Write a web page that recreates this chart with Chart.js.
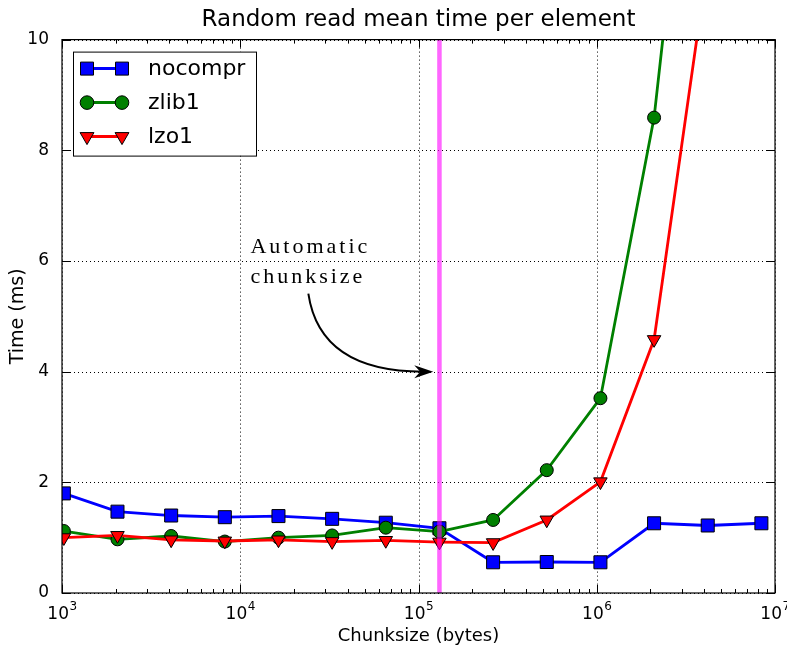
<!DOCTYPE html>
<html>
<head>
<meta charset="utf-8">
<script src="https://cdn.jsdelivr.net/npm/chart.js@4/dist/chart.umd.min.js"></script>
<style>
  html, body { margin: 0; padding: 0; background: #fff; }
  canvas { display: block; }
</style>
</head>
<body>
<canvas id="myChart" width="787" height="649"></canvas>
<script>
// chunk sizes in bytes (1 KB .. 8 MB)
const chunksizes = [1024, 2048, 4096, 8192, 16384, 32768, 65536, 131072,
  262144, 524288, 1048576, 2097152, 4194304, 8388608];

// mean read time per element, ms
const nocompr = [1.80, 1.47, 1.40, 1.37, 1.39, 1.34, 1.27, 1.17, 0.555, 0.56, 0.555, 1.26, 1.22, 1.26];
const zlib1 = [1.12, 0.97, 1.03, 0.93, 1.00, 1.04, 1.18, 1.11, 1.32, 2.22, 3.52, 8.59, 17.3, null];
const lzo1 = [1.00, 1.04, 0.96, 0.94, 0.96, 0.93, 0.95, 0.92, 0.91, 1.32, 2.01, 4.58, 11.4, null];

// x tick labels are "10" with these exponents
const xTicks = [1e3, 1e4, 1e5, 1e6, 1e7];
const xTickExp = ["3", "4", "5", "6", "7"];
const yTicks = [0, 2, 4, 6, 8, 10];

// automatic chunksize marker and its annotation
const autoChunk = 131072;
const noteText = ["Automatic", "chunksize"];
const notePos = [11400, 6.15];
const arrowFrom = [24100, 5.41];
const arrowBend = [28000, 4.0];
const arrowTo = [121000, 4.0];

const FONT = "'DejaVu Sans', sans-serif";

function pairs(ys) {
  return chunksizes.map((x, i) => ({ x: x, y: ys[i] }));
}

function drawMarker(ctx, style, x, y, color) {
  ctx.save();
  ctx.fillStyle = color;
  ctx.strokeStyle = "#000";
  ctx.lineWidth = 1;
  ctx.beginPath();
  if (style === "rect") {
    const s = 6.5;
    ctx.rect(x - s, y - s, 2 * s, 2 * s);
  } else if (style === "circle") {
    ctx.arc(x, y, 6.8, 0, Math.PI * 2);
  } else {
    const r = 8;
    ctx.moveTo(x, y + r);
    ctx.lineTo(x - r * Math.sin(Math.PI / 3), y - r / 2);
    ctx.lineTo(x + r * Math.sin(Math.PI / 3), y - r / 2);
    ctx.closePath();
  }
  ctx.fill();
  ctx.stroke();
  ctx.restore();
}

const series = [
  { label: "nocompr", data: nocompr, color: "#0000ff", style: "rect", radius: 9.2, rot: 0 },
  { label: "zlib1", data: zlib1, color: "#008000", style: "circle", radius: 6.5, rot: 0 },
  { label: "lzo1", data: lzo1, color: "#ff0000", style: "triangle", radius: 7.8, rot: 180 },
];

const decor = {
  id: "decor",
  beforeDatasetsDraw(chart) {
    const ctx = chart.ctx, a = chart.chartArea;
    const xs = chart.scales.x, ys = chart.scales.y;
    ctx.save();
    ctx.strokeStyle = "#000";
    ctx.lineWidth = 1;
    ctx.setLineDash([1, 3]);
    xTicks.forEach((v) => {
      const px = Math.round(xs.getPixelForValue(v)) + 0.5;
      ctx.beginPath();
      ctx.moveTo(px, a.top);
      ctx.lineTo(px, a.bottom);
      ctx.stroke();
    });
    yTicks.forEach((v) => {
      const py = Math.round(ys.getPixelForValue(v)) + 0.5;
      ctx.beginPath();
      ctx.moveTo(a.left, py);
      ctx.lineTo(a.right, py);
      ctx.stroke();
    });
    ctx.restore();

    // x tick labels: 10 with raised exponent
    ctx.save();
    ctx.fillStyle = "#000";
    ctx.textBaseline = "alphabetic";
    xTicks.forEach((v, i) => {
      ctx.font = "17px " + FONT;
      const wb = ctx.measureText("10").width;
      ctx.font = "12px " + FONT;
      const we = ctx.measureText(xTickExp[i]).width;
      const x0 = xs.getPixelForValue(v) - (wb + we) / 2;
      ctx.font = "17px " + FONT;
      ctx.fillText("10", x0, a.bottom + 26);
      ctx.font = "12px " + FONT;
      ctx.fillText(xTickExp[i], x0 + wb + 0.5, a.bottom + 16.5);
    });
    ctx.restore();
  },
  afterDatasetsDraw(chart) {
    const ctx = chart.ctx, a = chart.chartArea;
    const xs = chart.scales.x, ys = chart.scales.y;

    // vertical line at the automatic chunksize
    ctx.save();
    const mx = xs.getPixelForValue(autoChunk);
    ctx.strokeStyle = "rgba(255,0,255,0.6)";
    ctx.lineWidth = 4.5;
    ctx.beginPath();
    ctx.moveTo(mx, a.top);
    ctx.lineTo(mx, a.bottom);
    ctx.stroke();
    ctx.restore();

    // frame + inward ticks
    ctx.save();
    ctx.strokeStyle = "#000";
    ctx.lineWidth = 1.2;
    ctx.strokeRect(a.left, a.top, a.right - a.left, a.bottom - a.top);
    ctx.lineWidth = 1;
    ctx.beginPath();
    xTicks.forEach((v) => {
      const px = Math.round(xs.getPixelForValue(v)) + 0.5;
      ctx.moveTo(px, a.bottom); ctx.lineTo(px, a.bottom - 8);
      ctx.moveTo(px, a.top); ctx.lineTo(px, a.top + 8);
    });
    for (let d = 1e3; d < 1e7; d *= 10) {
      for (let k = 2; k <= 9; k++) {
        const px = Math.round(xs.getPixelForValue(d * k)) + 0.5;
        ctx.moveTo(px, a.bottom); ctx.lineTo(px, a.bottom - 4);
        ctx.moveTo(px, a.top); ctx.lineTo(px, a.top + 4);
      }
    }
    yTicks.forEach((v) => {
      const py = Math.round(ys.getPixelForValue(v)) + 0.5;
      ctx.moveTo(a.left, py); ctx.lineTo(a.left + 8, py);
      ctx.moveTo(a.right, py); ctx.lineTo(a.right - 8, py);
    });
    ctx.stroke();
    ctx.restore();

    // annotation
    ctx.save();
    ctx.fillStyle = "#000";
    ctx.font = "22px 'Liberation Serif', 'DejaVu Serif', serif";
    ctx.letterSpacing = "3px";
    ctx.textBaseline = "alphabetic";
    const tx = xs.getPixelForValue(notePos[0]), ty = ys.getPixelForValue(notePos[1]);
    noteText.forEach((t, i) => ctx.fillText(t, tx, ty + i * 30));
    const p0 = [xs.getPixelForValue(arrowFrom[0]), ys.getPixelForValue(arrowFrom[1])];
    const pc = [xs.getPixelForValue(arrowBend[0]), ys.getPixelForValue(arrowBend[1])];
    const p1 = [xs.getPixelForValue(arrowTo[0]), ys.getPixelForValue(arrowTo[1])];
    ctx.strokeStyle = "#000";
    ctx.lineWidth = 2;
    ctx.beginPath();
    ctx.moveTo(p0[0], p0[1]);
    ctx.quadraticCurveTo(pc[0], pc[1], p1[0] - 10, p1[1]);
    ctx.stroke();
    ctx.beginPath();
    ctx.moveTo(p1[0], p1[1]);
    ctx.lineTo(p1[0] - 19, p1[1] - 6.5);
    ctx.lineTo(p1[0] - 13, p1[1]);
    ctx.lineTo(p1[0] - 19, p1[1] + 6.5);
    ctx.closePath();
    ctx.fill();
    ctx.restore();

    // legend
    ctx.save();
    const lx = a.left + 11, ly = a.top + 12;
    ctx.fillStyle = "#fff";
    ctx.fillRect(lx, ly, 183, 104);
    ctx.strokeStyle = "#000";
    ctx.lineWidth = 1;
    ctx.strokeRect(lx + 0.5, ly + 0.5, 183, 104);
    series.forEach((s, i) => {
      const cy = ly + 17 + i * 34;
      ctx.strokeStyle = s.color;
      ctx.lineWidth = 3;
      ctx.beginPath();
      ctx.moveTo(lx + 14, cy);
      ctx.lineTo(lx + 49, cy);
      ctx.stroke();
      drawMarker(ctx, s.style, lx + 14, cy, s.color);
      drawMarker(ctx, s.style, lx + 49, cy, s.color);
      ctx.fillStyle = "#000";
      ctx.font = "22px " + FONT;
      ctx.textBaseline = "middle";
      ctx.fillText(s.label, lx + 75, cy + 1);
    });
    ctx.restore();
  },
};

let chart = new Chart("myChart", {
  type: "line",
  data: {
    datasets: series.map((s, i) => ({
      label: s.label,
      data: pairs(s.data),
      borderColor: s.color,
      backgroundColor: s.color,
      borderWidth: 2.8,
      fill: false,
      tension: 0,
      spanGaps: false,
      pointStyle: s.style,
      pointRadius: s.radius,
      pointRotation: s.rot,
      pointBackgroundColor: s.color,
      pointBorderColor: "#000",
      pointBorderWidth: 1,
      order: 3 - i,
    })),
  },
  plugins: [decor],
  options: {
    responsive: false,
    animation: false,
    devicePixelRatio: 1,
    layout: { padding: { left: 0, right: 12, top: 0, bottom: 0 } },
    plugins: {
      legend: { display: false },
      tooltip: { enabled: false },
      title: {
        display: true,
        fullSize: false,
        text: "Random read mean time per element",
        color: "#000",
        font: { family: FONT, size: 23, weight: "normal" },
        padding: { top: 6, bottom: 6 },
      },
    },
    scales: {
      x: {
        type: "logarithmic",
        min: 1e3,
        max: 1e7,
        afterBuildTicks: (scale) => {
          scale.ticks = xTicks.map((v) => ({ value: v }));
        },
        afterFit: (scale) => {
          scale.height = 56;
          scale.paddingLeft = 0;
          scale.paddingRight = 0;
        },
        grid: { display: false },
        border: { display: false },
        ticks: { display: false },
        title: {
          display: true,
          text: "Chunksize (bytes)",
          color: "#000",
          font: { family: FONT, size: 18 },
          padding: { top: 0, bottom: 2 },
        },
      },
      y: {
        min: 0,
        max: 10,
        afterBuildTicks: (scale) => {
          scale.ticks = yTicks.map((v) => ({ value: v }));
        },
        afterFit: (scale) => {
          scale.width = 62;
          scale.paddingTop = 0;
          scale.paddingBottom = 0;
        },
        grid: { display: false },
        border: { display: false },
        ticks: {
          color: "#000",
          font: { family: FONT, size: 17 },
          padding: 5,
        },
        title: {
          display: true,
          text: "Time (ms)",
          color: "#000",
          font: { family: FONT, size: 19 },
          padding: { top: 7, bottom: 0 },
        },
      },
    },
  },
});
</script>
</body>
</html>
